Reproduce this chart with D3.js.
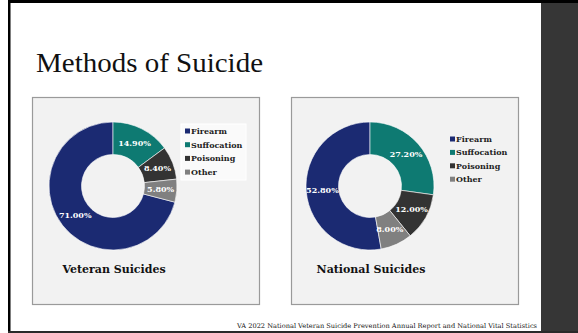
<!DOCTYPE html>
<html>
<head>
<meta charset="utf-8">
<script src="https://cdn.jsdelivr.net/npm/d3@7"></script>
<style>
  html, body { margin: 0; padding: 0; background: #fff; }
  svg { display: block; }
  text { font-family: "DejaVu Serif", "Liberation Serif", serif; }
</style>
</head>
<body>
<script>
// Data
const methods = ["Firearm", "Suffocation", "Poisoning", "Other"];
const veteranValues = [71.0, 14.9, 8.4, 5.8];
const nationalValues = [52.8, 27.2, 12.0, 8.0];
const chartTitles = ["Veteran Suicides", "National Suicides"];
const colors = ["#1b2a72", "#0e7a72", "#333333", "#808080"];

const width = 578;
const height = 333;

const svg = d3.select("body")
  .append("svg")
  .attr("width", width)
  .attr("height", height);

// slide frame
svg.append("rect").attr("x", 0).attr("y", 0).attr("width", width).attr("height", height).attr("fill", "#fff");
svg.append("rect").attr("x", 541).attr("y", 0).attr("width", 37).attr("height", height).attr("fill", "#363636");
svg.append("rect").attr("x", 8).attr("y", 0).attr("width", 570).attr("height", 3).attr("fill", "#000");
svg.append("rect").attr("x", 8).attr("y", 0).attr("width", 2.5).attr("height", 333).attr("fill", "#000");
svg.append("rect").attr("x", 8).attr("y", 331).attr("width", 570).attr("height", 2).attr("fill", "#2a2a2a");

// slide title
svg.append("text")
  .attr("x", 36)
  .attr("y", 72)
  .attr("textLength", 227)
  .attr("lengthAdjust", "spacingAndGlyphs")
  .style("font-family", "'Liberation Serif', serif")
  .style("font-size", "27px")
  .style("fill", "#111")
  .text("Methods of Suicide");

// footnote
svg.append("text")
  .attr("x", 237)
  .attr("y", 328)
  .attr("textLength", 300)
  .attr("lengthAdjust", "spacingAndGlyphs")
  .style("font-size", "6.5px")
  .style("fill", "#111")
  .text("VA 2022 National Veteran Suicide Prevention Annual Report and National Vital Statistics");

const panels = [
  { x: 32, values: veteranValues, cx: 81, legend: { x: 149, y: 27, box: true } },
  { x: 291, values: nationalValues, cx: 79, legend: { x: 159, y: 42, box: false } }
];

const outerR = 64;
const innerR = 31.5;
const arc = d3.arc().innerRadius(innerR).outerRadius(outerR);
const labelArc = d3.arc().innerRadius((innerR + outerR) / 2).outerRadius((innerR + outerR) / 2);

panels.forEach((p, i) => {
  const g = svg.append("g").attr("transform", `translate(${p.x},97)`);

  g.append("rect")
    .attr("x", 0.5).attr("y", 0.5)
    .attr("width", 227).attr("height", 207)
    .attr("fill", "#f2f2f2")
    .attr("stroke", "#9a9a9a")
    .attr("stroke-width", 1.2);

  const total = d3.sum(p.values);
  const start = -(p.values[0] / total) * Math.PI * 2;
  const pie = d3.pie().sort(null).startAngle(start).endAngle(start + Math.PI * 2);
  const arcs = pie(p.values);

  const donut = g.append("g").attr("transform", `translate(${p.cx},89)`);

  donut.selectAll("path")
    .data(arcs)
    .enter()
    .append("path")
    .attr("d", arc)
    .attr("fill", (d, j) => colors[j])
    .attr("stroke", "#fff")
    .attr("stroke-width", 0.6);

  donut.selectAll(".lbl")
    .data(arcs)
    .enter()
    .append("text")
    .attr("class", "lbl")
    .attr("transform", (d) => `translate(${labelArc.centroid(d)})`)
    .attr("text-anchor", "middle")
    .attr("dy", "0.35em")
    .style("font-size", "8px")
    .style("font-weight", "bold")
    .style("fill", "#fff")
    .text((d) => d.data.toFixed(2) + "%");

  // legend
  const lg = g.append("g").attr("transform", `translate(${p.legend.x},${p.legend.y})`);
  if (p.legend.box) {
    lg.append("rect")
      .attr("x", 0).attr("y", 0)
      .attr("width", 65).attr("height", 56)
      .attr("fill", "#fafafa")
      .attr("stroke", "#ffffff");
  }
  const lx = p.legend.box ? 4 : 0;
  const ly = p.legend.box ? 7 : 0;
  const step = p.legend.box ? 13.7 : 13.4;
  methods.forEach((m, j) => {
    const row = lg.append("g").attr("transform", `translate(${lx},${ly + j * step})`);
    row.append("rect")
      .attr("x", 0).attr("y", -2.5)
      .attr("width", 5).attr("height", 5)
      .attr("fill", colors[j]);
    row.append("text")
      .attr("x", 6)
      .attr("y", 0)
      .attr("dy", "0.35em")
      .style("font-size", "8px")
      .style("font-weight", "bold")
      .style("fill", "#222")
      .text(m);
  });

  g.append("text")
    .attr("x", p.cx + 1)
    .attr("y", 176)
    .attr("text-anchor", "middle")
    .style("font-size", "11px")
    .style("font-weight", "bold")
    .style("fill", "#111")
    .text(chartTitles[i]);
});
</script>
</body>
</html>
